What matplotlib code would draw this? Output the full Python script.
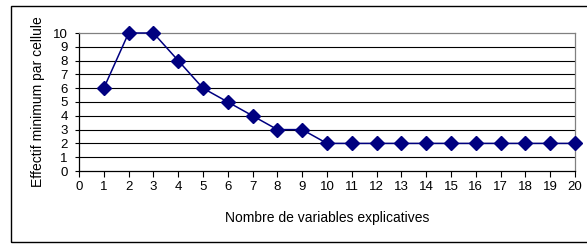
import matplotlib
matplotlib.use("Agg")
import matplotlib.pyplot as plt
from matplotlib.patches import Rectangle

plt.rcParams['font.family'] = ['Liberation Sans', 'DejaVu Sans']

# data
nb_variables = list(range(1, 21))
effectif_min = [6, 10, 10, 8, 6, 5, 4, 3, 3, 2, 2, 2, 2, 2, 2, 2, 2, 2, 2, 2]
x_ticks = list(range(0, 21))
y_ticks = list(range(0, 11))

fig = plt.figure(figsize=(5.87, 2.44), dpi=100)

# outer chart border (Excel style)
fig.patches.append(Rectangle((11 / 587, 2 / 244), 1.2, 236 / 244,
                             transform=fig.transFigure, fill=False,
                             edgecolor='black', linewidth=1.0))

ax = fig.add_axes([79 / 587, 1 - 171 / 244, (575 - 79) / 587, (171 - 33) / 244])

for y in y_ticks[1:-1]:
    ax.axhline(y, color='black', linewidth=0.8, zorder=1)

ax.plot(nb_variables, effectif_min, color='#000080', linewidth=1.1,
        marker='D', markersize=7, markerfacecolor='#000080',
        markeredgecolor='#000080', clip_on=False, zorder=3)

ax.set_xlim(0, 20)
ax.set_ylim(0, 10)
ax.set_xticks(x_ticks)
ax.set_yticks(y_ticks)

ax.spines['left'].set_color('black')
ax.spines['bottom'].set_color('black')
ax.spines['top'].set_color('#808080')
ax.spines['right'].set_color('#808080')
for s in ax.spines.values():
    s.set_linewidth(0.9)

ax.tick_params(axis='x', direction='out', length=4, width=0.8, pad=3, labelsize=9.5)
ax.tick_params(axis='y', direction='out', length=3, width=0.8, pad=5, labelsize=9.5)

ax.set_xlabel('Nombre de variables explicatives', fontsize=10, labelpad=13.5)
ax.set_ylabel('Effectif minimum par cellule', fontsize=10, labelpad=6)

fig.savefig('out.png', dpi=100)
